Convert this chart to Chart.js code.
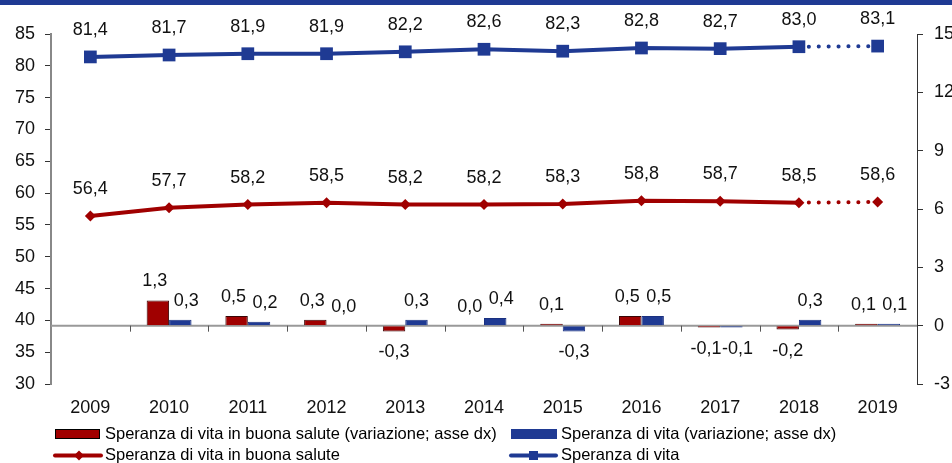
<!DOCTYPE html>
<html>
<head>
<meta charset="utf-8">
<script src="https://cdn.jsdelivr.net/npm/chart.js@4"></script>
<style>
html,body{margin:0;padding:0;background:#fff;overflow:hidden;}
#wrap{position:relative;width:952px;height:463px;}
#topband{position:absolute;left:0;top:0;width:952px;height:5px;background:#1F3A93;}
</style>
</head>
<body>
<div id="wrap">
<canvas id="c" width="952" height="463"></canvas>
<div id="topband"></div>
</div>
<script>
const years = ['2009','2010','2011','2012','2013','2014','2015','2016','2017','2018','2019'];
const speranzaVita = [81.4, 81.7, 81.9, 81.9, 82.2, 82.6, 82.3, 82.8, 82.7, 83.0, 83.1];
const speranzaBuonaSalute = [56.4, 57.7, 58.2, 58.5, 58.2, 58.2, 58.3, 58.8, 58.7, 58.5, 58.6];
const varBuonaSalute = [null, 1.3, 0.5, 0.3, -0.3, 0.0, 0.1, 0.5, -0.1, -0.2, 0.1];
const varVita = [null, 0.3, 0.2, 0.0, 0.3, 0.4, -0.3, 0.5, -0.1, 0.3, 0.1];
const leftTicks = [30, 85, 5];
const rightTicks = [-3, 15, 3];
const legendLabels = [
  'Speranza di vita in buona salute (variazione; asse dx)',
  'Speranza di vita (variazione; asse dx)',
  'Speranza di vita in buona salute',
  'Speranza di vita'
];

const RED = '#A00000';
const BLUE = '#1F3A93';
const FONT = "'Liberation Sans', Arial, sans-serif";
const fmt = v => v.toFixed(1).replace('.', ',');

const dottedLast = ctx => ctx.p1DataIndex === years.length - 1 ? [0.1, 9.8] : undefined;

const zeroLinePlugin = {
  id: 'zeroLine',
  beforeDatasetsDraw(chart) {
    const {ctx, chartArea, scales} = chart;
    const y = scales.y1.getPixelForValue(0);
    ctx.save();
    ctx.strokeStyle = '#999';
    ctx.lineWidth = 2;
    ctx.beginPath();
    ctx.moveTo(chartArea.left, y);
    ctx.lineTo(chartArea.right, y);
    ctx.stroke();
    const n = years.length;
    const w = (chartArea.right - chartArea.left) / n;
    ctx.strokeStyle = '#555';
    ctx.lineWidth = 1;
    for (let i = 1; i < n; i++) {
      const x = Math.round(chartArea.left + i * w) + 0.5;
      ctx.beginPath();
      ctx.moveTo(x, y);
      ctx.lineTo(x, y + 6);
      ctx.stroke();
    }
    ctx.restore();
  }
};

const labelPlugin = {
  id: 'valueLabels',
  afterDatasetsDraw(chart) {
    const {ctx} = chart;
    ctx.save();
    ctx.fillStyle = '#111';
    ctx.font = '18px ' + FONT;
    ctx.textAlign = 'center';
    ctx.textBaseline = 'middle';
    chart.data.datasets.forEach((ds, di) => {
      const meta = chart.getDatasetMeta(di);
      meta.data.forEach((el, i) => {
        const v = ds.data[i];
        if (v === null || v === undefined) return;
        if (ds.type === 'line') {
          ctx.fillText(fmt(v), el.x, el.y - 27);
        } else {
          const a = varBuonaSalute[i], b = varVita[i];
          const same = a !== null && b !== null && ((a >= 0) === (b >= 0));
          let dx = 0;
          if (same) dx = di === 0 ? -3 : 6;
          if (v >= 0) ctx.fillText(fmt(v), el.x + dx, el.y - 19);
          else ctx.fillText(fmt(v), el.x + dx, el.y + 21);
        }
      });
    });
    ctx.restore();
  }
};

const legendPlugin = {
  id: 'customLegend',
  afterDraw(chart) {
    const {ctx} = chart;
    ctx.save();
    ctx.font = '16.5px ' + FONT;
    ctx.textBaseline = 'middle';
    ctx.textAlign = 'left';
    ctx.fillStyle = '#000';
    const r1 = 434, r2 = 455.5;
    ctx.fillStyle = RED;
    ctx.fillRect(55, 429, 45, 10);
    ctx.strokeStyle = '#000';
    ctx.lineWidth = 1;
    ctx.strokeRect(55.5, 429.5, 44, 9);
    ctx.fillStyle = '#000';
    ctx.fillText(legendLabels[0], 105, r1);
    ctx.fillStyle = BLUE;
    ctx.fillRect(511, 429, 46, 10);
    ctx.fillStyle = '#000';
    ctx.fillText(legendLabels[1], 561, r1);
    ctx.strokeStyle = RED;
    ctx.lineWidth = 4;
    ctx.lineCap = 'round';
    ctx.beginPath(); ctx.moveTo(55, r2); ctx.lineTo(101, r2); ctx.stroke();
    ctx.fillStyle = RED;
    ctx.beginPath();
    ctx.moveTo(79, r2 - 5); ctx.lineTo(84, r2); ctx.lineTo(79, r2 + 5); ctx.lineTo(74, r2); ctx.closePath(); ctx.fill();
    ctx.fillStyle = '#000';
    ctx.fillText(legendLabels[2], 105, r2);
    ctx.strokeStyle = BLUE;
    ctx.beginPath(); ctx.moveTo(511, r2); ctx.lineTo(556, r2); ctx.stroke();
    ctx.fillStyle = BLUE;
    ctx.fillRect(529, r2 - 4.5, 9, 9);
    ctx.fillStyle = '#000';
    ctx.fillText(legendLabels[3], 561, r2);
    ctx.restore();
  }
};

new Chart(document.getElementById('c'), {
  type: 'bar',
  data: {
    labels: years,
    datasets: [
      {
        type: 'bar', label: legendLabels[0], data: varBuonaSalute, yAxisID: 'y1',
        backgroundColor: RED, borderColor: '#3a0505', borderWidth: 1,
        barPercentage: 1, categoryPercentage: 0.57, order: 3
      },
      {
        type: 'bar', label: legendLabels[1], data: varVita, yAxisID: 'y1',
        backgroundColor: BLUE, borderColor: '#1a3080', borderWidth: 1,
        barPercentage: 1, categoryPercentage: 0.57, order: 4
      },
      {
        type: 'line', label: legendLabels[2], data: speranzaBuonaSalute, yAxisID: 'y',
        borderColor: RED, backgroundColor: RED, borderWidth: 4, borderCapStyle: 'round',
        pointStyle: 'rectRot', pointRadius: 5.5, pointBorderWidth: 0, pointHoverRadius: 5.5,
        tension: 0, segment: {borderDash: dottedLast}, order: 1
      },
      {
        type: 'line', label: legendLabels[3], data: speranzaVita, yAxisID: 'y',
        borderColor: BLUE, backgroundColor: BLUE, borderWidth: 4, borderCapStyle: 'round',
        pointStyle: 'rect', pointRadius: 9, pointBorderWidth: 0, pointHoverRadius: 9,
        tension: 0, segment: {borderDash: dottedLast}, order: 0
      }
    ]
  },
  options: {
    responsive: false,
    animation: false,
    layout: {padding: {top: 34, left: 0, right: 0, bottom: 0}},
    plugins: {legend: {display: false}, tooltip: {enabled: false}},
    scales: {
      x: {
        offset: true,
        grid: {display: false},
        border: {display: false},
        ticks: {font: {size: 18, family: FONT}, color: '#111', padding: 5, maxRotation: 0},
        afterFit: s => { s.height = 79; }
      },
      y: {
        position: 'left', min: leftTicks[0], max: leftTicks[1],
        ticks: {stepSize: leftTicks[2], font: {size: 18, family: FONT}, color: '#111', padding: 10},
        grid: {drawOnChartArea: false, drawTicks: true, tickLength: 6, color: '#333'},
        border: {color: '#888', width: 2},
        afterFit: s => { s.width = 51; }
      },
      y1: {
        position: 'right', min: rightTicks[0], max: rightTicks[1],
        ticks: {stepSize: rightTicks[2], font: {size: 18, family: FONT}, color: '#111', padding: 11},
        grid: {drawOnChartArea: false, drawTicks: true, tickLength: 6, color: '#333'},
        border: {color: '#333', width: 1},
        afterFit: s => { s.width = 35; }
      }
    }
  },
  plugins: [zeroLinePlugin, labelPlugin, legendPlugin]
});
</script>
</body>
</html>
